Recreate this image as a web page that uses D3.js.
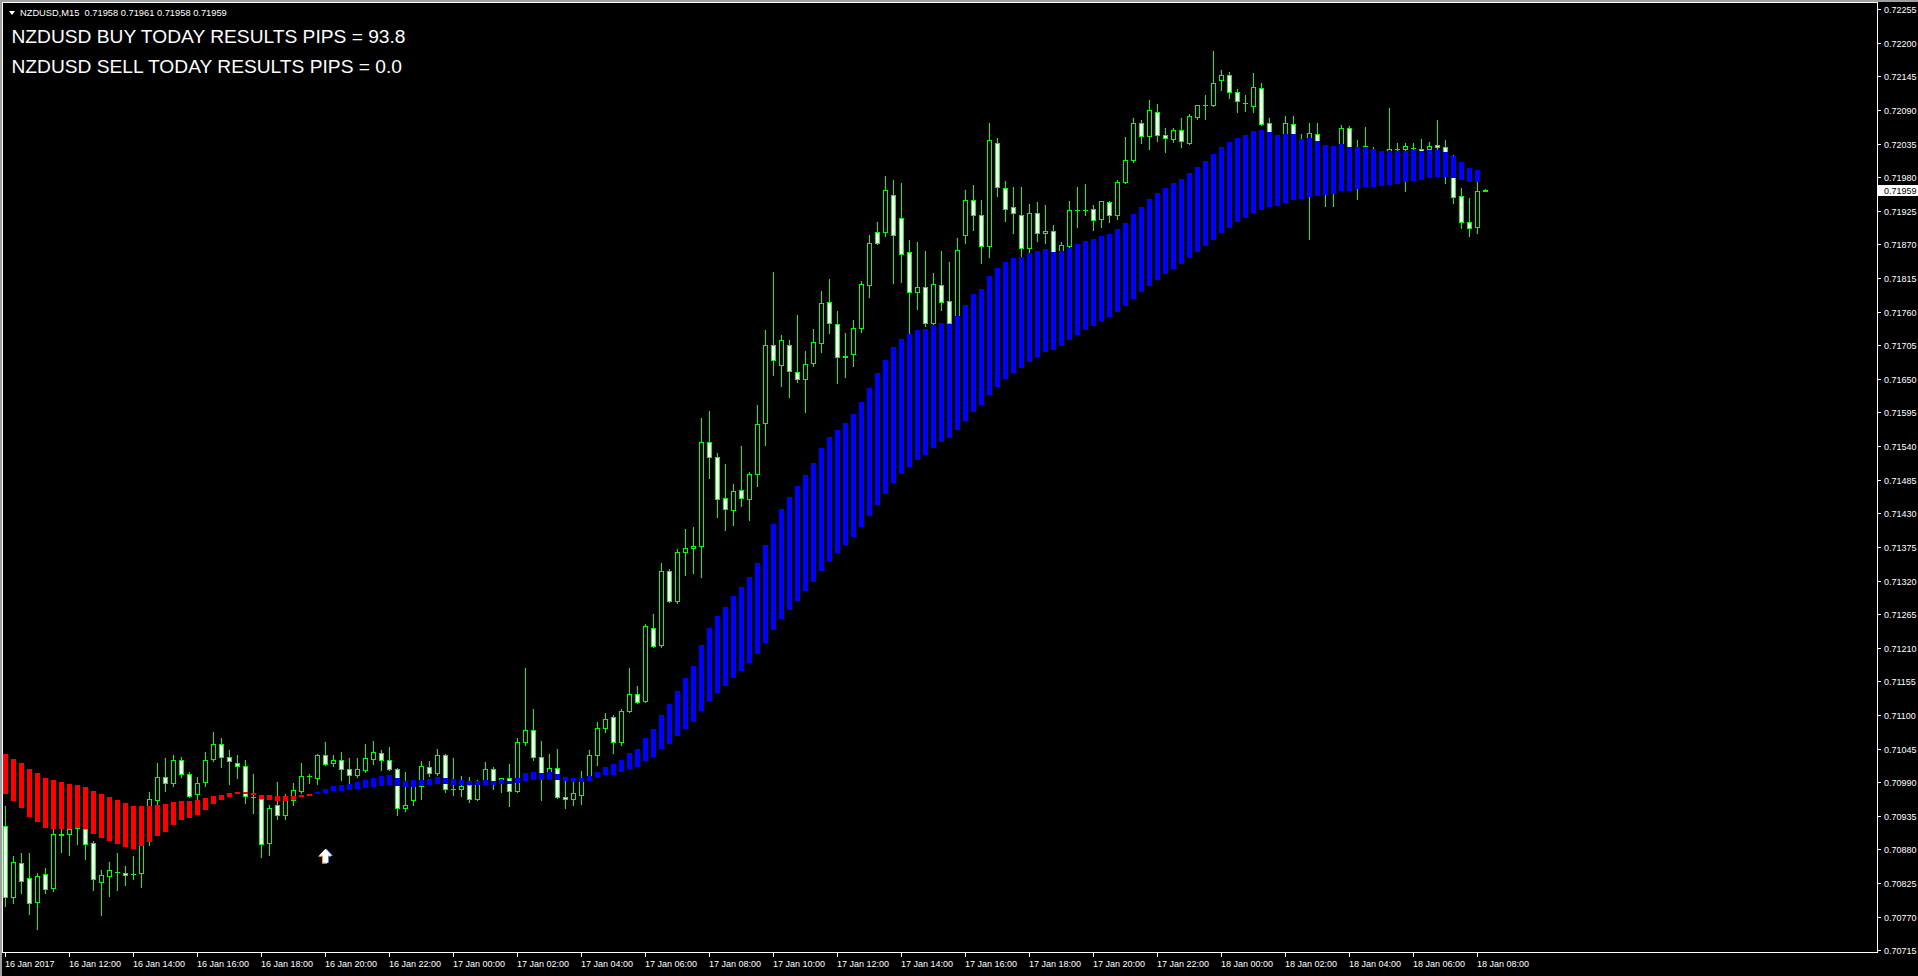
<!DOCTYPE html>
<html><head><meta charset="utf-8">
<script src="https://cdn.jsdelivr.net/npm/d3@7"></script>
<style>html,body{margin:0;padding:0;background:#000;overflow:hidden}</style>
</head><body><svg id="c" width="1918" height="976"></svg>
<script>
const symbol = "NZDUSD,M15";
const lastQuote = ["0.71958", "0.71961", "0.71958", "0.71959"];
const resultLines = ["NZDUSD BUY TODAY RESULTS PIPS = 93.8", "NZDUSD SELL TODAY RESULTS PIPS = 0.0"];
const currentPrice = 0.71959;

const open = [0.70919,0.70802,0.70857,0.70833,0.70794,0.70839,0.70816,0.70905,0.70905,0.70915,
0.70914,0.70890,0.70827,0.70837,0.70843,0.70842,0.70840,0.70841,0.70893,0.70960,
0.70998,0.70988,0.71027,0.71004,0.70970,0.70990,0.71028,0.71052,0.71032,0.71022,
0.71016,0.70966,0.70963,0.70890,0.70952,0.70937,0.70960,0.70975,0.71000,0.70996,
0.71034,0.71021,0.71026,0.71011,0.71001,0.71010,0.71028,0.71037,0.71027,0.71011,
0.70948,0.70960,0.70983,0.71014,0.71005,0.71034,0.70979,0.70979,0.70985,0.70963,
0.70991,0.71011,0.70991,0.70997,0.70976,0.71055,0.71075,0.71031,0.71007,0.71013,
0.70966,0.70962,0.70969,0.71000,0.71034,0.71078,0.71096,0.71056,0.71107,0.71134,
0.71123,0.71242,0.71214,0.71335,0.71287,0.71366,0.71373,0.71376,0.71546,0.71522,
0.71455,0.71435,0.71468,0.71453,0.71495,0.71577,0.71705,0.71673,0.71705,0.71662,
0.71649,0.71676,0.71708,0.71775,0.71739,0.71685,0.71690,0.71733,0.71803,0.71890,
0.71890,0.71951,0.71913,0.71857,0.71793,0.71800,0.71742,0.71803,0.71777,0.71746,
0.71885,0.71943,0.71918,0.71868,0.72036,0.71962,0.71931,0.71918,0.71864,0.71921,
0.71888,0.71892,0.71860,0.71868,0.71927,0.71927,0.71928,0.71911,0.71939,0.71918,
0.71973,0.72008,0.72068,0.72047,0.72087,0.72049,0.72042,0.72058,0.72036,0.72079,
0.72099,0.72099,0.72139,0.72148,0.72119,0.72102,0.72097,0.72126,0.72068,0.72041,
0.72041,0.72067,0.72008,0.72045,0.72050,0.71992,0.71975,0.72034,0.72060,0.72025,
0.72031,0.72016,0.72000,0.72023,0.72026,0.72026,0.72028,0.72027,0.72026,0.72032,
0.72029,0.72008,0.71950,0.71906,0.71899,0.71958];

const high = [0.70951,0.70869,0.70874,0.70874,0.70841,0.70849,0.70915,0.70918,0.70918,0.70936,
0.70928,0.70893,0.70846,0.70859,0.70874,0.70853,0.70869,0.70918,0.70974,0.71021,
0.71030,0.71034,0.71031,0.71007,0.70998,0.71039,0.71072,0.71063,0.71043,0.71034,
0.71026,0.71003,0.70969,0.70953,0.70990,0.70971,0.70988,0.71021,0.71003,0.71036,
0.71056,0.71034,0.71039,0.71029,0.71029,0.71052,0.71058,0.71042,0.71048,0.71013,
0.71007,0.70991,0.71025,0.71025,0.71044,0.71036,0.71030,0.71000,0.70998,0.70994,
0.71023,0.71015,0.70997,0.71020,0.71062,0.71177,0.71110,0.71057,0.71036,0.71044,
0.70994,0.70997,0.71008,0.71042,0.71088,0.71104,0.71100,0.71109,0.71177,0.71147,
0.71249,0.71265,0.71349,0.71339,0.71371,0.71405,0.71408,0.71586,0.71597,0.71529,
0.71511,0.71478,0.71540,0.71497,0.71607,0.71730,0.71825,0.71722,0.71714,0.71755,
0.71696,0.71732,0.71794,0.71813,0.71761,0.71725,0.71746,0.71811,0.71885,0.71907,
0.71982,0.71975,0.71970,0.71877,0.71874,0.71859,0.71823,0.71859,0.71841,0.71880,
0.71959,0.71967,0.71943,0.72068,0.72045,0.71974,0.71964,0.71964,0.71936,0.71939,
0.71935,0.71902,0.71874,0.71941,0.71964,0.71969,0.71935,0.71941,0.71941,0.71975,
0.72046,0.72077,0.72074,0.72106,0.72100,0.72060,0.72060,0.72077,0.72083,0.72098,
0.72115,0.72187,0.72155,0.72152,0.72124,0.72115,0.72151,0.72134,0.72077,0.72047,
0.72080,0.72080,0.72051,0.72069,0.72069,0.72008,0.72000,0.72065,0.72064,0.72041,
0.72062,0.72029,0.72021,0.72093,0.72036,0.72036,0.72036,0.72043,0.72038,0.72074,
0.72041,0.72016,0.71962,0.71946,0.71972,0.71961];

const low = [0.70788,0.70793,0.70809,0.70775,0.70750,0.70809,0.70812,0.70876,0.70871,0.70889,
0.70865,0.70813,0.70773,0.70804,0.70813,0.70822,0.70832,0.70819,0.70887,0.70953,
0.70976,0.70984,0.70998,0.70965,0.70961,0.70983,0.71025,0.71015,0.70987,0.70996,
0.70956,0.70940,0.70868,0.70871,0.70930,0.70930,0.70953,0.70972,0.70989,0.70987,
0.71018,0.71017,0.70994,0.70987,0.70998,0.71007,0.71019,0.71010,0.71010,0.70936,
0.70943,0.70953,0.70962,0.71000,0.71002,0.70974,0.70969,0.70968,0.70958,0.70960,
0.70989,0.70978,0.70974,0.70951,0.70974,0.71051,0.71026,0.70960,0.71003,0.70964,
0.70948,0.70953,0.70955,0.70995,0.71018,0.71072,0.71037,0.71051,0.71105,0.71120,
0.71121,0.71212,0.71212,0.71285,0.71283,0.71329,0.71333,0.71326,0.71487,0.71424,
0.71402,0.71411,0.71442,0.71419,0.71475,0.71542,0.71656,0.71639,0.71621,0.71645,
0.71596,0.71671,0.71694,0.71725,0.71644,0.71653,0.71671,0.71727,0.71784,0.71871,
0.71884,0.71807,0.71809,0.71723,0.71765,0.71737,0.71733,0.71763,0.71730,0.71738,
0.71873,0.71894,0.71840,0.71850,0.71949,0.71909,0.71889,0.71850,0.71856,0.71876,
0.71872,0.71848,0.71856,0.71861,0.71899,0.71918,0.71893,0.71899,0.71907,0.71911,
0.71970,0.72005,0.72036,0.72026,0.72040,0.72022,0.72037,0.72030,0.72035,0.72076,
0.72076,0.72097,0.72122,0.72110,0.72087,0.72089,0.72086,0.72065,0.72041,0.72008,
0.72033,0.72033,0.72000,0.71879,0.72025,0.71933,0.71933,0.72008,0.72008,0.71944,
0.72016,0.71992,0.71984,0.72008,0.72008,0.71958,0.72008,0.72008,0.72008,0.72008,
0.71970,0.71938,0.71897,0.71884,0.71889,0.71958];

const close = [0.70802,0.70859,0.70829,0.70793,0.70836,0.70815,0.70905,0.70904,0.70913,0.70925,
0.70888,0.70831,0.70838,0.70846,0.70843,0.70838,0.70840,0.70903,0.70962,0.70998,
0.70988,0.71026,0.71004,0.70968,0.70988,0.71027,0.71052,0.71031,0.71024,0.71016,
0.70968,0.70966,0.70888,0.70948,0.70936,0.70966,0.70977,0.71000,0.71000,0.71034,
0.71019,0.71026,0.71011,0.71002,0.71011,0.71029,0.71039,0.71026,0.71011,0.70948,
0.70952,0.70984,0.71016,0.71005,0.71034,0.70978,0.70979,0.70984,0.70963,0.70991,
0.71011,0.70991,0.70996,0.70975,0.71055,0.71075,0.71031,0.71004,0.71013,0.70966,
0.70962,0.70973,0.70992,0.71034,0.71078,0.71093,0.71056,0.71106,0.71135,0.71122,
0.71245,0.71213,0.71335,0.71286,0.71366,0.71374,0.71376,0.71546,0.71522,0.71453,
0.71437,0.71466,0.71455,0.71495,0.71576,0.71705,0.71681,0.71714,0.71663,0.71649,
0.71675,0.71710,0.71774,0.71741,0.71685,0.71688,0.71733,0.71805,0.71872,0.71873,
0.71959,0.71885,0.71855,0.71793,0.71800,0.71742,0.71805,0.71775,0.71741,0.71861,
0.71943,0.71918,0.71868,0.72041,0.71964,0.71928,0.71921,0.71865,0.71921,0.71888,
0.71892,0.71854,0.71869,0.71926,0.71927,0.71927,0.71910,0.71941,0.71919,0.71972,
0.72009,0.72068,0.72047,0.72090,0.72049,0.72044,0.72057,0.72039,0.72080,0.72098,
0.72099,0.72134,0.72148,0.72119,0.72104,0.72102,0.72127,0.72067,0.72051,0.72025,
0.72068,0.72044,0.72025,0.72052,0.72038,0.71967,0.71992,0.72060,0.72025,0.72008,
0.72031,0.72008,0.72008,0.72027,0.72026,0.72031,0.72028,0.72023,0.72031,0.72029,
0.72021,0.71948,0.71906,0.71897,0.71957,0.71959];

// trend band indicator (upper / lower edge of each bar) and its colour per bar
const bandHi = [0.71036,0.71028,0.71021,0.71012,0.71005,0.70997,0.70994,0.70990,0.70987,0.70985,
0.70982,0.70976,0.70971,0.70966,0.70961,0.70956,0.70951,0.70951,0.70951,0.70953,
0.70954,0.70957,0.70959,0.70959,0.70961,0.70964,0.70967,0.70969,0.70972,0.70974,
0.70974,0.70972,0.70969,0.70969,0.70967,0.70967,0.70967,0.70969,0.70971,0.70974,
0.70979,0.70984,0.70985,0.70987,0.70990,0.70994,0.70997,0.71000,0.71002,0.70997,
0.70992,0.70994,0.70994,0.70995,0.70998,0.70997,0.70995,0.70994,0.70992,0.70992,
0.70994,0.70992,0.70994,0.70992,0.70997,0.71005,0.71007,0.71005,0.71007,0.71003,
0.70998,0.70997,0.70997,0.71000,0.71007,0.71015,0.71020,0.71026,0.71038,0.71044,
0.71062,0.71077,0.71100,0.71118,0.71139,0.71160,0.71180,0.71214,0.71242,0.71262,
0.71277,0.71295,0.71309,0.71326,0.71349,0.71378,0.71412,0.71437,0.71457,0.71475,
0.71493,0.71512,0.71537,0.71555,0.71566,0.71578,0.71592,0.71612,0.71635,0.71660,
0.71681,0.71702,0.71715,0.71723,0.71730,0.71732,0.71738,0.71741,0.71740,0.71753,
0.71771,0.71789,0.71797,0.71818,0.71831,0.71841,0.71848,0.71849,0.71856,0.71859,
0.71862,0.71858,0.71859,0.71864,0.71871,0.71876,0.71879,0.71884,0.71887,0.71895,
0.71905,0.71920,0.71931,0.71944,0.71954,0.71962,0.71971,0.71977,0.71987,0.71997,
0.72007,0.72018,0.72029,0.72038,0.72044,0.72049,0.72056,0.72057,0.72054,0.72049,
0.72051,0.72051,0.72043,0.72044,0.72039,0.72033,0.72031,0.72034,0.72029,0.72029,
0.72029,0.72026,0.72023,0.72023,0.72023,0.72023,0.72025,0.72023,0.72025,0.72025,
0.72021,0.72015,0.72005,0.71995,0.71992];

const bandLo = [0.70971,0.70959,0.70948,0.70933,0.70925,0.70915,0.70913,0.70913,0.70913,0.70915,
0.70913,0.70905,0.70899,0.70894,0.70889,0.70884,0.70881,0.70885,0.70892,0.70902,
0.70908,0.70920,0.70928,0.70931,0.70936,0.70944,0.70954,0.70961,0.70966,0.70971,
0.70971,0.70971,0.70962,0.70961,0.70959,0.70959,0.70961,0.70965,0.70967,0.70971,
0.70972,0.70976,0.70976,0.70977,0.70979,0.70980,0.70982,0.70984,0.70985,0.70984,
0.70982,0.70982,0.70984,0.70985,0.70987,0.70987,0.70985,0.70985,0.70985,0.70985,
0.70985,0.70985,0.70987,0.70987,0.70989,0.70992,0.70994,0.70994,0.70994,0.70994,
0.70992,0.70990,0.70990,0.70992,0.70997,0.71001,0.71002,0.71007,0.71012,0.71015,
0.71025,0.71031,0.71044,0.71053,0.71066,0.71077,0.71089,0.71106,0.71123,0.71136,
0.71148,0.71161,0.71172,0.71185,0.71200,0.71218,0.71239,0.71257,0.71272,0.71286,
0.71303,0.71318,0.71335,0.71352,0.71365,0.71378,0.71391,0.71408,0.71426,0.71443,
0.71462,0.71480,0.71495,0.71506,0.71518,0.71525,0.71537,0.71547,0.71554,0.71567,
0.71581,0.71596,0.71607,0.71624,0.71637,0.71649,0.71660,0.71668,0.71678,0.71686,
0.71694,0.71698,0.71704,0.71714,0.71722,0.71730,0.71737,0.71745,0.71751,0.71760,
0.71770,0.71781,0.71793,0.71802,0.71812,0.71822,0.71830,0.71838,0.71848,0.71858,
0.71868,0.71878,0.71889,0.71897,0.71906,0.71914,0.71922,0.71927,0.71932,0.71933,
0.71938,0.71943,0.71945,0.71948,0.71950,0.71951,0.71953,0.71958,0.71958,0.71961,
0.71964,0.71964,0.71966,0.71967,0.71969,0.71973,0.71974,0.71976,0.71979,0.71980,
0.71980,0.71979,0.71976,0.71973,0.71973];

const bandColor = "RRRRRRRRRRRRRRRRRRRRRRRRRRRRRRRRRRRRRRR" +
  "BBBBBBBBBBBBBBBBBBBBBBBBBBBBBBBBBBBBBBBBBBBBBBBBBBBBBBBBBBBBBBBBBBBBBBBBBBBBBBBBBBBBBBBBBBBBBBBBBBBBBBBBBBBBBBBBBBBBBBBBBBBBBBBBBBBBBBBBBBBBBBBB";

const arrowBar = 40, arrowPrice = 0.70881;

const timeLabels = ["16 Jan 2017","16 Jan 12:00","16 Jan 14:00","16 Jan 16:00","16 Jan 18:00","16 Jan 20:00",
"16 Jan 22:00","17 Jan 00:00","17 Jan 02:00","17 Jan 04:00","17 Jan 06:00","17 Jan 08:00","17 Jan 10:00",
"17 Jan 12:00","17 Jan 14:00","17 Jan 16:00","17 Jan 18:00","17 Jan 20:00","17 Jan 22:00","18 Jan 00:00",
"18 Jan 02:00","18 Jan 04:00","18 Jan 06:00","18 Jan 08:00"];
const timeLabelBars = [0,8,16,24,32,40,48,56,64,72,80,88,96,104,112,120,128,136,144,152,160,168,176,184];

const priceTicks = [0.72255,0.72200,0.72145,0.72090,0.72035,0.71980,0.71925,0.71870,0.71815,0.71760,
0.71705,0.71650,0.71595,0.71540,0.71485,0.71430,0.71375,0.71320,0.71265,0.71210,0.71155,0.71100,
0.71045,0.70990,0.70935,0.70880,0.70825,0.70770,0.70715];

// ---------------- drawing ----------------
const W = 1918, H = 976;
const plotRight = 1877, plotBottom = 952;
const svg = d3.select("#c");
const GREEN = "#00ff00", RED = "#ff0000", BLUE = "#0000ff";
const FONT = "Liberation Sans, Arial, sans-serif";

const x = d3.scaleLinear().domain([0, 185]).range([5, 1485]);
const y = d3.scaleLinear().domain([0.70715, 0.72255]).range([950.2, 9.2]);

svg.append("rect").attr("width", W).attr("height", H).attr("fill", "#000");

svg.append("defs").append("clipPath").attr("id", "plot").append("rect")
  .attr("x", 3).attr("y", 3).attr("width", plotRight - 3).attr("height", plotBottom - 3);

const plot = svg.append("g").attr("clip-path", "url(#plot)").attr("shape-rendering", "crispEdges");

const bars = d3.range(open.length);
// wicks
plot.append("g").selectAll("line").data(bars).join("line")
  .attr("x1", i => x(i) + 0.5).attr("x2", i => x(i) + 0.5)
  .attr("y1", i => Math.round(y(high[i]))).attr("y2", i => Math.round(y(low[i])) + 1)
  .attr("stroke", GREEN).attr("stroke-width", 1);
// bodies
const bodies = plot.append("g");
bars.forEach(i => {
  const o = open[i], c = close[i];
  const top = Math.round(y(Math.max(o, c))), bot = Math.round(y(Math.min(o, c)));
  const bull = c >= o;
  if (bot - top < 1) {
    bodies.append("line").attr("x1", x(i) - 2).attr("x2", x(i) + 3)
      .attr("y1", top + 0.5).attr("y2", top + 0.5).attr("stroke", GREEN);
  } else {
    bodies.append("rect").attr("x", x(i) - 1.5).attr("width", 4)
      .attr("y", top + 0.5).attr("height", bot - top)
      .attr("fill", bull ? "#000" : "#fff").attr("stroke", GREEN).attr("stroke-width", 1);
  }
});
// band indicator (drawn over the candles)
plot.append("g").selectAll("rect").data(d3.range(bandHi.length)).join("rect")
  .attr("x", i => x(i) - 2).attr("width", 5)
  .attr("y", i => Math.round(y(bandHi[i])))
  .attr("height", i => Math.max(2, Math.round(y(bandLo[i])) - Math.round(y(bandHi[i]))))
  .attr("fill", i => bandColor[i] === "R" ? RED : BLUE);

// buy arrow
const ax = x(arrowBar) + 0.5, ay = y(arrowPrice);
const arrowPath = (dx, dy) => {
  const X = ax + dx, Y = ay + dy;
  return `M${X},${Y} L${X + 6.5},${Y + 7} L${X + 2.5},${Y + 7} L${X + 2.5},${Y + 14} L${X - 2.5},${Y + 14} L${X - 2.5},${Y + 7} L${X - 6.5},${Y + 7} Z`;
};
svg.append("path").attr("d", arrowPath(-1, 1)).attr("fill", "#ff9a3c");
svg.append("path").attr("d", arrowPath(1, 0)).attr("fill", "#4a7dff");
svg.append("path").attr("d", arrowPath(0, 0)).attr("fill", "#fff");

// frame
const frame = svg.append("g").attr("shape-rendering", "crispEdges");
frame.append("rect").attr("x", 0).attr("y", 0).attr("width", W).attr("height", 2).attr("fill", "#a0a0a0");
frame.append("rect").attr("x", 0).attr("y", 0).attr("width", 2).attr("height", H).attr("fill", "#a0a0a0");
frame.append("line").attr("x1", 2).attr("x2", plotRight + 1).attr("y1", 2.5).attr("y2", 2.5).attr("stroke", "#fff");
frame.append("line").attr("x1", 2.5).attr("x2", 2.5).attr("y1", 2).attr("y2", plotBottom + 1).attr("stroke", "#fff");
frame.append("line").attr("x1", plotRight + 0.5).attr("x2", plotRight + 0.5).attr("y1", 2).attr("y2", plotBottom + 1).attr("stroke", "#fff");
frame.append("line").attr("x1", 2).attr("x2", plotRight + 1).attr("y1", plotBottom + 0.5).attr("y2", plotBottom + 0.5).attr("stroke", "#fff");

// price axis
const pa = svg.append("g");
priceTicks.forEach(p => {
  const yy = Math.round(y(p));
  pa.append("line").attr("x1", plotRight + 1).attr("x2", plotRight + 4).attr("y1", yy + 0.5).attr("y2", yy + 0.5)
    .attr("stroke", "#fff").attr("shape-rendering", "crispEdges");
  pa.append("text").attr("x", plotRight + 7).attr("y", yy + 3.5)
    .attr("fill", "#fff").attr("font-family", FONT).attr("font-size", "9px")
    .text(d3.format(".5f")(p));
});
// current price marker
const cy = Math.round(y(currentPrice));
pa.append("rect").attr("x", plotRight + 1).attr("y", cy - 5).attr("width", W - plotRight - 1).attr("height", 11)
  .attr("fill", "#fff").attr("shape-rendering", "crispEdges");
pa.append("text").attr("x", plotRight + 7).attr("y", cy + 3.5)
  .attr("fill", "#000").attr("font-family", FONT).attr("font-size", "9px")
  .text(d3.format(".5f")(currentPrice));

// time axis
const ta = svg.append("g");
timeLabelBars.forEach((b, k) => {
  const xx = x(b);
  ta.append("line").attr("x1", xx + 0.5).attr("x2", xx + 0.5).attr("y1", plotBottom + 1).attr("y2", plotBottom + 5)
    .attr("stroke", "#fff").attr("shape-rendering", "crispEdges");
  ta.append("text").attr("x", xx).attr("y", plotBottom + 15)
    .attr("fill", "#fff").attr("font-family", FONT).attr("font-size", "9px")
    .text(timeLabels[k]);
});

// header
svg.append("path").attr("d", "M9,11 L15,11 L12,15 Z").attr("fill", "#fff");
svg.append("text").attr("x", 20).attr("y", 15.5).attr("fill", "#fff")
  .attr("font-family", FONT).attr("font-size", "9.3px")
  .attr("xml:space", "preserve")
  .text(symbol + "  " + lastQuote.join(" "));
resultLines.forEach((t, k) => {
  svg.append("text").attr("x", 11.5).attr("y", 42.7 + k * 30.6).attr("fill", "#fff")
    .attr("font-family", FONT).attr("font-size", "19.2px")
    .text(t);
});
</script>
</body></html>
